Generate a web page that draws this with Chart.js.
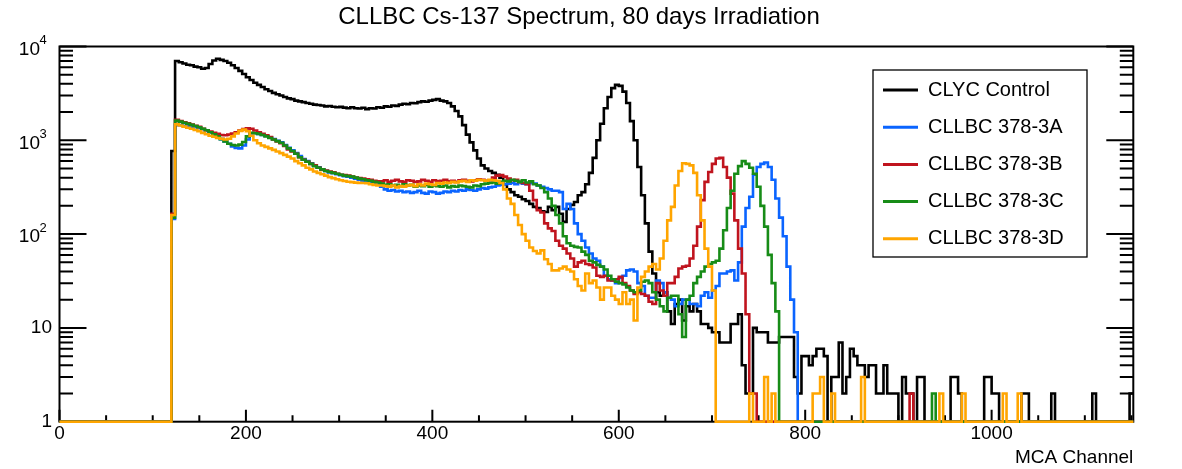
<!DOCTYPE html>
<html><head><meta charset="utf-8">
<script src="https://cdn.jsdelivr.net/npm/chart.js@4.4.1/dist/chart.umd.min.js"></script>
<style>html,body{margin:0;padding:0;background:#fff;}canvas{display:block}</style>
</head><body>
<canvas id="c" width="1182" height="469"></canvas>
<script>
// ---- chart text ----
const chartTitle = 'CLLBC Cs-137 Spectrum, 80 days Irradiation';
const xAxisTitle = 'MCA Channel';
const seriesNames = ['CLYC Control', 'CLLBC 378-3A', 'CLLBC 378-3B', 'CLLBC 378-3C', 'CLLBC 378-3D'];
const seriesColors = ['#000000', '#0a64ff', '#c0141e', '#178c17', '#ffa500'];

// ---- binning (MCA channels) ----
const xMin = 0, xMax = 1152;
const firstBinChannel = 120;   // counts below this channel are zero
const binWidth = 4;
const xMajorTicks = [0, 200, 400, 600, 800, 1000];
const yMajorTicks = [1, 10, 100, 1000, 10000];

// ---- counts per bin, starting at channel 120 ----
const clycControl = [
770,7000,6800,6600,6400,6300,6100,6000,5800,5900,
6500,7100,7400,7200,7000,6700,6300,5900,5500,5100,
4700,4400,4100,3900,3700,3500,3350,3200,3100,3000,
2900,2800,2750,2650,2600,2550,2500,2450,2400,2380,
2350,2300,2320,2280,2250,2270,2230,2200,2250,2200,
2180,2220,2150,2200,2180,2250,2220,2300,2280,2350,
2330,2400,2450,2420,2500,2480,2550,2600,2580,2650,
2700,2750,2650,2600,2500,2300,2050,1800,1450,1150,
950,780,640,540,500,470,450,430,400,340,
300,280,260,250,235,225,210,195,190,175,
172,195,180,195,165,135,185,205,220,260,
280,340,450,650,1000,1500,2200,2900,3600,3900,
3800,3300,2500,1600,1000,520,260,130,65,38,
24,22,24,15,11,18,20,12,17,15,
18,15,11,11,10,9,9,7,7,7,
11,11,14,4,2,2,10,9,9,9,
7,7,7,8,8,8,8,3,2,5,
5,4,5,6,6,5,0,3,3,7,
2,3,6,5,4,4,3,4,4,2,
2,4,2,2,2,1,3,2,2,1,
3,3,1,0,1,0,1,0,0,3,
3,2,1,0,1,0,0,1,3,3,
2,2,0,1,0,1,0,0,2,2,
0,1,0,0,0,0,2,0,0,0,
0,0,0,0,1,0,0,2,0,0,
0,0,0,0,0,0,0,2];

const cllbc3A = [
145,1450,1450,1430,1420,1400,1380,1350,1310,1260,
1210,1150,1090,1030,970,920,860,830,820,880,
1020,1180,1190,1170,1140,1110,1070,1030,990,950,
890,830,780,730,680,630,600,570,540,515,
490,470,455,445,435,425,415,410,400,390,
380,370,360,355,350,340,320,300,290,295,
285,290,280,285,275,280,290,275,270,285,
280,270,275,285,280,290,285,295,290,300,
295,290,300,310,305,315,320,330,335,340,
345,350,340,355,345,340,350,345,330,320,
310,300,290,290,280,185,210,185,130,100,
85,72,62,55,52,45,36,33,32,30,
34,36,41,42,40,30,28,22,21,21,
32,30,24,21,20,17,18,20,20,18,
18,17,22,24,21,25,28,38,38,40,
41,32,50,120,190,250,430,520,560,580,
520,380,240,150,95,45,20,9,0,0,
0,0,0,0,0,0,0,0,0,0,
0,0,0,0,0,0,0,0,0,0,
0,0,0,0,0,0,0,0,0,0,
0,0,0,0,0,0,0,0,0,0,
0,0,0,0,0,0,0,0,0,0,
0,0,0,0,0,0,0,0,0,0,
0,0,0,0,0,0,0,0,0,0,
0,0,0,0,0,0,0,0,0,0,
0,0,0,0,0,0,0,0];

const cllbc3B = [
165,1650,1600,1560,1520,1470,1430,1390,1330,1280,
1240,1200,1170,1140,1130,1150,1180,1220,1270,1320,
1340,1330,1270,1220,1170,1130,1080,1020,970,930,
870,800,760,720,660,620,590,560,540,510,
490,475,465,455,440,430,425,420,410,400,
395,390,385,380,370,365,365,375,360,370,
380,365,360,375,370,360,365,380,370,360,
375,365,370,380,365,370,360,375,380,370,
365,375,385,380,370,375,400,420,425,410,
390,375,380,360,350,340,290,230,180,170,
130,115,108,85,75,70,62,55,45,50,
52,48,47,44,36,35,36,32,32,33,
35,30,28,25,23,24,23,22,19,18,
30,25,22,30,30,35,43,45,46,55,
75,120,230,360,460,560,640,650,520,400,
270,140,70,38,14,2,2,0,0,0,
0,0,0,0,0,0,0,0,0,0,
0,0,0,0,0,0,0,0,0,0,
0,0,0,0,0,0,0,0,0,0,
0,0,0,0,0,0,0,0,2,0,
0,0,0,0,0,0,0,0,0,0,
0,0,0,0,0,0,0,0,0,0,
0,0,0,0,0,0,0,0,0,0,
0,0,0,0,0,0,0,0,0,0,
0,0,0,0,0,0,0,0,0,0,
0,0,0,0,0,0,0,0];

const cllbc3C = [
150,1620,1580,1540,1500,1460,1420,1380,1330,1280,
1220,1160,1100,1030,970,920,890,880,900,960,
1100,1200,1190,1170,1140,1100,1060,1020,980,940,
880,820,770,720,660,620,590,560,530,510,
490,470,460,450,440,430,420,415,410,400,
390,385,375,370,360,355,345,335,340,330,
335,325,340,330,335,320,330,325,335,320,
330,325,320,330,315,325,320,330,325,320,
315,330,325,340,345,350,355,345,360,370,
365,380,370,360,375,355,365,340,330,310,
280,240,200,160,130,95,80,75,73,72,
65,60,52,50,47,45,42,36,33,31,
30,29,27,25,24,25,31,32,30,24,
20,17,15,21,22,22,14,8,20,22,
30,35,40,45,48,50,52,70,110,190,
290,440,530,600,560,510,440,320,200,120,
60,30,15,0,0,0,0,0,0,0,
0,0,0,0,0,0,0,0,0,0,
0,0,0,0,0,0,0,0,0,0,
0,0,0,0,0,0,0,0,0,0,
0,0,0,0,2,0,0,0,0,0,
0,0,0,0,0,0,0,0,0,0,
0,0,0,0,0,0,0,0,0,0,
0,0,0,0,0,0,0,0,0,0,
0,0,0,0,0,0,0,0,0,0,
0,0,0,0,0,0,0,0];

const cllbc3D = [
160,1480,1440,1400,1360,1330,1290,1250,1200,1160,
1120,1090,1060,1040,1020,1040,1100,1180,1260,1300,
1250,1120,1000,930,880,850,820,790,760,730,
700,670,640,600,570,540,510,490,465,450,
435,420,405,395,385,375,368,362,358,354,
352,350,348,340,335,330,330,325,320,330,
315,325,320,330,335,325,340,330,345,340,
335,350,345,355,350,360,355,365,370,360,
375,370,380,375,370,380,375,370,350,300,
240,210,160,125,100,85,72,66,62,67,
54,48,41,41,43,45,42,40,33,28,
25,38,30,32,27,20,27,27,22,20,
18,24,18,20,12,27,35,40,45,48,
42,55,85,140,195,330,470,570,560,540,
450,260,140,70,45,25,0,0,0,0,
0,0,0,0,0,2,0,0,0,3,
0,2,0,0,0,0,0,0,0,0,
0,0,2,2,3,0,0,2,0,0,
0,0,0,0,0,3,0,0,0,0,
0,0,0,0,0,0,0,0,0,0,
0,0,0,0,0,0,2,0,0,0,
0,0,2,0,0,0,0,0,0,0,
0,0,0,2,0,0,0,2,0,0,
0,0,0,0,0,0,0,0,0,0,
0,0,0,0,0,0,0,0,0,0,
0,0,0,0,0,0,0,0];

const seriesCounts = [clycControl, cllbc3A, cllbc3B, cllbc3C, cllbc3D];

// ---- build step-histogram points (zero counts sit on the log-axis floor) ----
function histPoints(counts) {
  const pts = [{x: xMin, y: 1}];
  counts.forEach((v, i) => pts.push({x: firstBinChannel + i * binWidth, y: Math.max(v, 1)}));
  pts.push({x: xMax, y: Math.max(counts[counts.length - 1], 1)});
  return pts;
}

const FONT = "'Liberation Sans', Arial, Helvetica, sans-serif";

const rootStyle = {
  id: 'rootStyle',
  beforeDatasetsDraw(chart) {
    const {ctx, chartArea: a, scales: {x, y}} = chart;
    ctx.save();
    ctx.strokeStyle = '#000';
    ctx.lineWidth = 2;
    ctx.lineCap = 'butt';
    ctx.beginPath();
    for (let v = 0; v <= xMax; v += 50) {
      const px = x.getPixelForValue(v);
      const len = (v % 200 === 0) ? 12 : 6.5;
      ctx.moveTo(px, a.bottom); ctx.lineTo(px, a.bottom - len);
    }
    for (let d = 1; d <= 10000; d *= 10) {
      for (let m = 1; m <= 9; m++) {
        const v = d * m;
        if (v > 10000) break;
        const py = y.getPixelForValue(v);
        const len = m === 1 ? 27 : 13.5;
        ctx.moveTo(a.left, py); ctx.lineTo(a.left + len, py);
        ctx.moveTo(a.right, py); ctx.lineTo(a.right - len, py);
      }
    }
    ctx.stroke();
    ctx.strokeRect(a.left, a.top, a.right - a.left, a.bottom - a.top);
    ctx.restore();
  },
  afterDraw(chart) {
    const {ctx, chartArea: a, scales: {x, y}} = chart;
    ctx.save();
    ctx.fillStyle = '#000';
    ctx.font = '24px ' + FONT;
    ctx.textAlign = 'center'; ctx.textBaseline = 'middle';
    ctx.fillText(chartTitle, 579, 17);
    ctx.font = '19px ' + FONT;
    xMajorTicks.forEach(v => ctx.fillText(String(v), x.getPixelForValue(v), 434));
    ctx.textAlign = 'right';
    ctx.fillText(xAxisTitle, a.right, 458);
    yMajorTicks.forEach(v => {
      const py = y.getPixelForValue(v);
      const exp = Math.round(Math.log10(v));
      ctx.textAlign = 'right';
      ctx.font = '19px ' + FONT;
      if (exp <= 1) {
        ctx.fillText(String(v), 52, py);
      } else {
        ctx.fillText('10', 40, py + 3);
        ctx.textAlign = 'left';
        ctx.font = '13px ' + FONT;
        ctx.fillText(String(exp), 39.5, py - 6);
      }
    });
    const lx = 873, ly = 70, lw = 214, lh = 187;
    ctx.fillStyle = '#fff';
    ctx.fillRect(lx, ly, lw, lh);
    ctx.strokeStyle = '#000'; ctx.lineWidth = 1.3;
    ctx.strokeRect(lx, ly, lw, lh);
    ctx.font = '20px ' + FONT;
    ctx.textAlign = 'left'; ctx.textBaseline = 'middle';
    seriesNames.forEach((name, i) => {
      const cy = 90 + i * 37.2;
      ctx.strokeStyle = seriesColors[i]; ctx.lineWidth = 3;
      ctx.beginPath(); ctx.moveTo(883, cy); ctx.lineTo(918, cy); ctx.stroke();
      ctx.fillStyle = '#000';
      ctx.fillText(name, 928, cy);
    });
    ctx.restore();
  }
};

new Chart(document.getElementById('c'), {
  type: 'line',
  data: {
    datasets: seriesCounts.map((counts, i) => ({
      label: seriesNames[i],
      data: histPoints(counts),
      borderColor: seriesColors[i],
      backgroundColor: seriesColors[i],
      borderWidth: 2.6,
      stepped: true,
      pointRadius: 0,
      fill: false,
      tension: 0,
      clip: false,
      borderJoinStyle: 'miter',
      order: seriesCounts.length - i
    }))
  },
  options: {
    responsive: false,
    animation: false,
    events: [],
    layout: {padding: {left: 59.5, top: 46.5, right: 48.7, bottom: 47.3}},
    plugins: {legend: {display: false}, title: {display: false}, tooltip: {enabled: false}},
    scales: {
      x: {type: 'linear', min: xMin, max: xMax, display: false},
      y: {type: 'logarithmic', min: 1, max: 10000, display: false}
    }
  },
  plugins: [rootStyle]
});
</script>
</body></html>
